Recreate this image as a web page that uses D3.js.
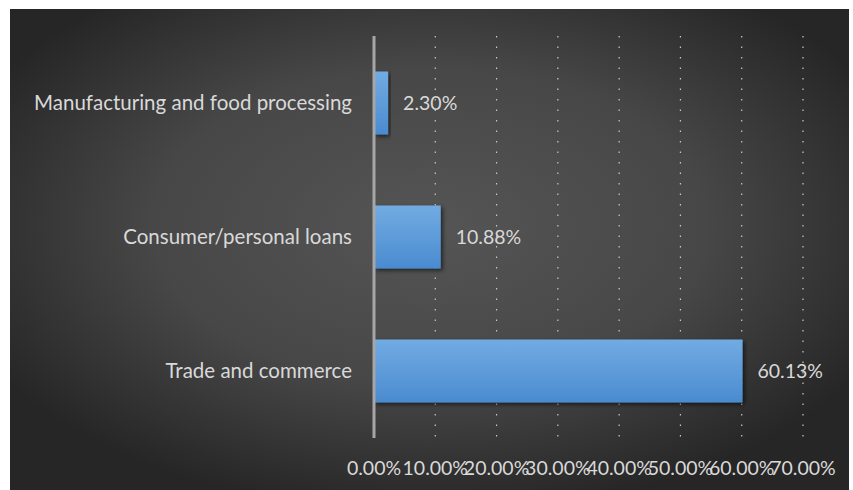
<!DOCTYPE html>
<html>
<head>
<meta charset="utf-8">
<script src="https://cdn.jsdelivr.net/npm/d3@7"></script>
<style>
  body { margin: 0; background: #fff; }
  text { font-family: Lato, "Open Sans", sans-serif; }
</style>
</head>
<body>
<div id="chart"></div>
<script>
const sectors = ["Manufacturing and food processing", "Consumer/personal loans", "Trade and commerce"]
const shares = [2.30, 10.88, 60.13]
const xTicks = [0, 10, 20, 30, 40, 50, 60, 70]

const width = 853
const height = 490
const margin = { top: 36, bottom: 52, left: 374, right: 50 }

const svg = d3.select("#chart").append("svg").attr("width", width).attr("height", height)
const defs = svg.append("defs")

// dark background with a soft light centre
const bg = defs.append("radialGradient").attr("id", "bg").attr("cx", "50%").attr("cy", "45%").attr("r", "60%")
bg.append("stop").attr("offset", "0%").attr("stop-color", "#555555")
bg.append("stop").attr("offset", "55%").attr("stop-color", "#474747")
bg.append("stop").attr("offset", "100%").attr("stop-color", "#262626")

const barGrad = defs.append("linearGradient").attr("id", "barGrad").attr("x1", 0).attr("y1", 0).attr("x2", 0).attr("y2", 1)
barGrad.append("stop").attr("offset", "0%").attr("stop-color", "#72abe2")
barGrad.append("stop").attr("offset", "100%").attr("stop-color", "#4a8bd0")

const shadow = defs.append("filter").attr("id", "shadow").attr("x", "-10%").attr("y", "-10%").attr("width", "130%").attr("height", "130%")
shadow.append("feDropShadow").attr("dx", 2).attr("dy", 2).attr("stdDeviation", 2).attr("flood-color", "#000").attr("flood-opacity", 0.6)

svg.append("rect").attr("x", 10).attr("y", 9).attr("width", 839).attr("height", 481).attr("fill", "url(#bg)")

const x = d3.scaleLinear().domain([0, 70]).range([margin.left, 803])
const y = d3.scaleBand().domain(sectors).range([margin.top, height - margin.bottom]).paddingInner(0.53).paddingOuter(0.265)

// dotted gridlines
svg.append("g").selectAll("line").data(xTicks.slice(1)).enter().append("line")
    .attr("x1", d => x(d)).attr("x2", d => x(d))
    .attr("y1", margin.top).attr("y2", height - margin.bottom)
    .attr("stroke", "#c8c8c8").attr("stroke-width", 1.2).attr("stroke-dasharray", "1.5,9")

// bars
const bars = svg.append("g")
sectors.forEach((s, i) => {
    bars.append("rect")
        .attr("x", x(0)).attr("y", y(s))
        .attr("width", x(shares[i]) - x(0)).attr("height", y.bandwidth())
        .attr("fill", "url(#barGrad)").attr("filter", "url(#shadow)")
    bars.append("text")
        .attr("x", x(shares[i]) + 15).attr("y", y(s) + y.bandwidth() / 2)
        .attr("dy", "0.35em").attr("fill", "#d9d9d9").attr("font-size", 19.5)
        .text(shares[i].toFixed(2) + "%")
})

// value axis line
svg.append("line").attr("x1", x(0)).attr("x2", x(0))
    .attr("y1", margin.top).attr("y2", height - margin.bottom)
    .attr("stroke", "#a6a6a6").attr("stroke-width", 3)

// category labels
svg.append("g").selectAll("text").data(sectors).enter().append("text")
    .attr("x", 352).attr("y", d => y(d) + y.bandwidth() / 2)
    .attr("dy", "0.35em").attr("text-anchor", "end")
    .attr("fill", "#d9d9d9").attr("font-size", 20.5)
    .text(d => d)

// tick labels
svg.append("g").selectAll("text").data(xTicks).enter().append("text")
    .attr("x", d => x(d)).attr("y", 475)
    .attr("text-anchor", "middle").attr("fill", "#d9d9d9").attr("font-size", 19.5)
    .text(d => d.toFixed(2) + "%")
</script>
</body>
</html>
